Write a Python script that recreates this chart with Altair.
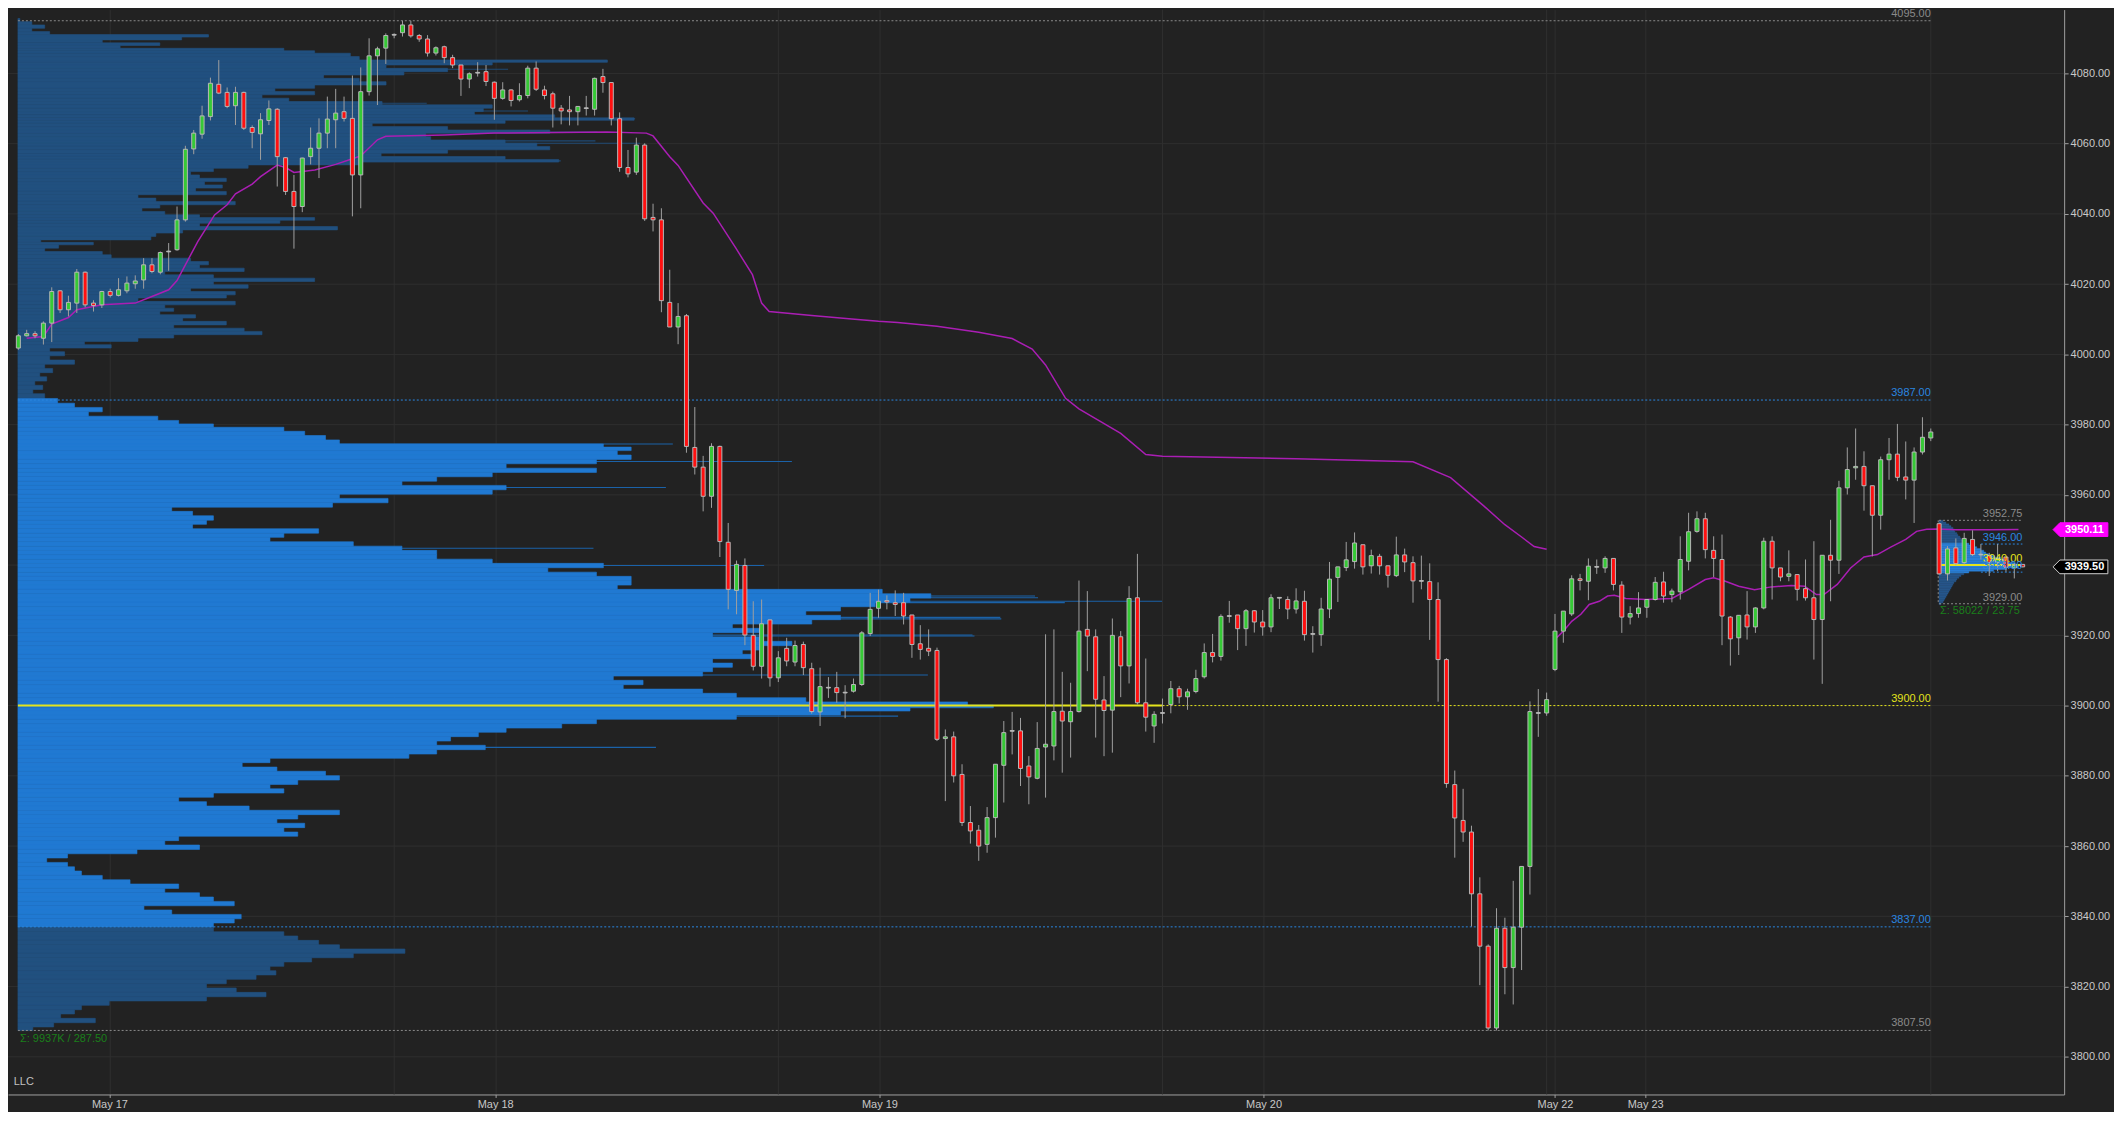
import altair as alt
import pandas as pd

# ---------------- candles (30-minute bars, bar index 0..240) ----------------
OPEN = [4001.8, 4005.3, 4005.9, 4004.6, 4008.9, 4018.1, 4012.7, 4014.6, 4023.4, 4014.6,
        4014.1, 4017.9, 4016.8, 4018.1, 4020.1, 4021.2, 4025.5, 4023.4, 4029.3, 4029.8,
        4038.3, 4058.5, 4062.7, 4067.7, 4076.9, 4074.6, 4070.8, 4074.6, 4064.6, 4062.8,
        4066.6, 4069.8, 4056.0, 4046.4, 4042.1, 4056.3, 4058.7, 4063.0, 4066.8, 4069.1,
        4067.2, 4051.1, 4074.8, 4085.0, 4087.2, 4091.0, 4091.6, 4093.8, 4090.8, 4089.8,
        4085.8, 4087.6, 4084.5, 4082.4, 4078.4, 4080.2, 4080.5, 4077.5, 4072.9, 4075.3,
        4072.5, 4073.7, 4081.5, 4075.3, 4074.2, 4070.1, 4069.6, 4069.1, 4070.1, 4069.8,
        4079.1, 4077.4, 4067.1, 4053.2, 4051.9, 4059.6, 4039.0, 4038.3, 4014.8, 4007.8,
        4011.0, 3973.5, 3967.9, 3959.6, 3973.8, 3946.5, 3932.8, 3939.9, 3920.0, 3911.2,
        3924.4, 3907.9, 3916.3, 3912.4, 3917.4, 3910.5, 3898.2, 3905.1, 3905.1, 3903.7,
        3904.1, 3906.0, 3920.5, 3927.7, 3929.9, 3929.3, 3929.3, 3925.8, 3917.6, 3916.3,
        3915.7, 3890.6, 3891.1, 3880.4, 3866.7, 3864.5, 3860.5, 3868.1, 3883.0, 3892.8,
        3892.8, 3882.8, 3879.3, 3888.2, 3888.5, 3898.4, 3895.4, 3898.3, 3921.7, 3919.6,
        3901.6, 3898.7, 3919.6, 3911.3, 3930.7, 3900.8, 3894.2, 3897.9, 3900.3, 3904.8,
        3902.5, 3904.0, 3908.2, 3915.1, 3914.0, 3925.5, 3925.8, 3921.9, 3927.0, 3923.8,
        3922.4, 3930.7, 3930.2, 3927.5, 3929.7, 3920.4, 3920.2, 3927.5, 3936.5, 3939.3,
        3941.0, 3945.8, 3939.8, 3942.5, 3939.8, 3937.0, 3942.9, 3940.7, 3935.5, 3935.3,
        3930.2, 3913.1, 3877.5, 3867.3, 3864.0, 3846.4, 3831.5, 3808.2, 3836.6, 3825.4,
        3836.9, 3854.2, 3897.9, 3897.9, 3910.3, 3921.2, 3926.1, 3936.1, 3935.4, 3939.5,
        3939.2, 3941.9, 3934.3, 3925.2, 3926.2, 3928.0, 3930.2, 3935.2, 3931.6, 3932.4,
        3941.1, 3949.6, 3953.2, 3944.2, 3941.6, 3925.2, 3919.3, 3925.8, 3922.4, 3927.8,
        3946.8, 3939.2, 3936.8, 3937.3, 3933.3, 3930.7, 3924.5, 3942.8, 3941.4, 3962.0,
        3967.7, 3968.1, 3962.6, 3954.2, 3970.0, 3971.6, 3965.1, 3964.2, 3972.2, 3976.2,
        3951.8, 3937.5, 3944.9, 3940.7, 3947.3, 3943.0, 3942.7, 3940.8, 3942.3, 3939.2,
        3940.2]
HIGH = [4005.8, 4007.0, 4006.6, 4009.4, 4019.1, 4018.3, 4016.7, 4024.3, 4023.6, 4015.4,
        4018.1, 4018.7, 4021.7, 4022.2, 4022.5, 4027.4, 4027.4, 4029.3, 4031.7, 4042.1,
        4059.4, 4063.9, 4070.8, 4078.8, 4083.8, 4076.0, 4076.2, 4074.8, 4065.2, 4068.7,
        4072.3, 4070.1, 4056.2, 4051.1, 4056.0, 4064.6, 4067.2, 4073.4, 4075.6, 4073.4,
        4079.4, 4081.7, 4090.0, 4087.6, 4091.4, 4091.4, 4095.0, 4095.0, 4091.2, 4090.9,
        4087.7, 4087.9, 4085.3, 4082.4, 4080.3, 4083.2, 4082.4, 4077.7, 4077.5, 4075.5,
        4077.2, 4082.2, 4083.4, 4076.5, 4074.8, 4071.0, 4073.6, 4070.6, 4073.6, 4078.8,
        4081.3, 4077.4, 4068.9, 4058.2, 4061.7, 4060.1, 4042.9, 4041.6, 4024.1, 4014.6,
        4011.5, 3985.0, 3971.1, 3974.7, 3974.0, 3952.0, 3941.3, 3941.9, 3929.7, 3930.2,
        3924.4, 3915.5, 3919.3, 3918.5, 3918.2, 3912.2, 3910.8, 3908.1, 3909.6, 3905.8,
        3907.7, 3921.2, 3932.1, 3933.0, 3931.4, 3932.8, 3932.1, 3925.8, 3922.9, 3921.7,
        3916.5, 3893.2, 3892.6, 3883.3, 3871.4, 3866.0, 3871.1, 3883.3, 3895.6, 3898.2,
        3896.5, 3885.6, 3895.3, 3920.3, 3921.7, 3909.6, 3906.5, 3935.6, 3932.6, 3921.7,
        3908.4, 3924.8, 3921.2, 3934.0, 3943.2, 3913.4, 3898.4, 3902.0, 3907.0, 3905.6,
        3904.8, 3910.2, 3917.7, 3920.4, 3926.0, 3929.8, 3925.8, 3927.5, 3927.2, 3927.2,
        3931.7, 3930.7, 3931.1, 3933.4, 3932.7, 3922.6, 3930.7, 3940.9, 3939.5, 3946.6,
        3949.3, 3945.8, 3944.4, 3943.2, 3939.8, 3948.1, 3944.7, 3942.5, 3942.7, 3940.5,
        3935.1, 3913.5, 3881.5, 3876.3, 3865.8, 3851.1, 3832.0, 3842.3, 3839.6, 3850.1,
        3854.2, 3901.2, 3904.7, 3903.7, 3926.1, 3926.9, 3937.1, 3937.5, 3941.9, 3941.6,
        3942.5, 3941.9, 3935.4, 3928.3, 3932.3, 3930.2, 3936.6, 3938.1, 3933.3, 3948.2,
        3954.9, 3955.3, 3954.9, 3948.2, 3948.7, 3925.5, 3925.7, 3932.6, 3928.0, 3947.8,
        3948.2, 3939.2, 3944.2, 3937.3, 3941.6, 3946.8, 3942.8, 3952.9, 3964.0, 3973.5,
        3978.9, 3972.4, 3962.6, 3970.9, 3976.2, 3980.2, 3975.2, 3973.5, 3982.1, 3978.9,
        3952.1, 3945.4, 3947.6, 3949.2, 3949.9, 3946.0, 3943.5, 3946.0, 3942.3, 3940.6,
        3940.2]
LOW = [4001.3, 4005.1, 4004.6, 4002.8, 4003.5, 4011.8, 4010.8, 4011.8, 4013.4, 4012.2,
       4013.2, 4016.2, 4016.5, 4017.4, 4018.7, 4018.7, 4023.1, 4022.8, 4023.8, 4029.5,
       4037.8, 4057.0, 4061.4, 4066.6, 4074.1, 4070.1, 4065.3, 4063.9, 4058.7, 4055.4,
       4065.3, 4047.8, 4045.4, 4030.1, 4040.5, 4054.1, 4050.2, 4058.7, 4058.7, 4066.3,
       4039.3, 4041.6, 4073.7, 4071.0, 4082.7, 4090.0, 4090.5, 4090.2, 4089.0, 4084.8,
       4085.1, 4082.9, 4081.5, 4073.6, 4075.8, 4079.1, 4076.4, 4066.8, 4072.5, 4070.6,
       4072.0, 4072.9, 4075.0, 4072.6, 4064.6, 4065.5, 4065.2, 4065.2, 4068.0, 4068.0,
       4074.5, 4065.2, 4052.0, 4050.4, 4051.1, 4038.0, 4035.0, 4012.0, 4007.8, 4002.9,
       3972.0, 3965.8, 3955.3, 3956.3, 3942.3, 3927.4, 3926.0, 3917.2, 3910.0, 3907.7,
       3905.4, 3906.7, 3911.2, 3911.2, 3908.7, 3897.7, 3894.2, 3902.2, 3900.8, 3896.4,
       3903.7, 3905.6, 3919.8, 3925.0, 3927.4, 3925.5, 3923.1, 3913.6, 3913.1, 3914.1,
       3889.9, 3872.8, 3878.1, 3865.7, 3860.7, 3855.8, 3858.1, 3862.4, 3872.4, 3886.1,
       3877.1, 3871.9, 3879.0, 3873.8, 3884.4, 3880.9, 3885.2, 3898.0, 3909.8, 3890.9,
       3885.6, 3886.6, 3902.4, 3906.3, 3900.3, 3892.6, 3889.4, 3894.9, 3897.8, 3900.6,
       3898.8, 3903.5, 3907.7, 3912.3, 3912.8, 3923.6, 3915.8, 3917.0, 3920.8, 3919.9,
       3920.9, 3927.5, 3924.6, 3926.2, 3918.5, 3915.1, 3917.0, 3924.9, 3929.5, 3938.3,
       3939.0, 3937.3, 3937.6, 3937.3, 3933.6, 3936.6, 3938.0, 3929.3, 3933.1, 3918.7,
       3901.1, 3876.6, 3856.7, 3861.2, 3837.1, 3820.4, 3807.5, 3807.5, 3817.8, 3814.9,
       3824.7, 3846.2, 3891.1, 3897.1, 3909.8, 3917.9, 3925.5, 3932.8, 3930.0, 3937.5,
       3937.8, 3932.8, 3920.7, 3923.1, 3925.0, 3925.0, 3929.9, 3929.3, 3929.4, 3930.2,
       3938.5, 3949.2, 3941.9, 3936.6, 3917.2, 3911.4, 3914.4, 3918.8, 3920.7, 3927.4,
       3930.2, 3935.4, 3935.4, 3929.9, 3929.9, 3913.1, 3906.2, 3929.7, 3937.5, 3960.1,
       3964.3, 3955.5, 3942.5, 3950.1, 3964.3, 3963.9, 3958.7, 3952.0, 3971.5, 3975.3,
       3937.3, 3935.6, 3940.0, 3940.2, 3942.6, 3941.6, 3936.9, 3938.3, 3938.1, 3936.2,
       3939.4]
CLOSE = [4005.3, 4005.9, 4005.3, 4008.9, 4017.9, 4012.7, 4014.8, 4023.4, 4014.1, 4013.9,
         4017.9, 4016.8, 4018.4, 4020.3, 4020.9, 4025.5, 4023.6, 4029.0, 4029.3, 4038.3,
         4058.4, 4063.0, 4067.9, 4077.2, 4074.4, 4070.6, 4074.6, 4064.4, 4063.2, 4066.8,
         4069.9, 4056.3, 4046.4, 4042.1, 4055.9, 4058.7, 4063.0, 4067.0, 4068.7, 4067.2,
         4051.1, 4074.8, 4085.0, 4087.0, 4090.8, 4091.0, 4093.8, 4090.7, 4089.8, 4085.8,
         4087.3, 4084.5, 4082.4, 4078.4, 4079.9, 4080.2, 4077.7, 4072.9, 4075.3, 4072.3,
         4073.7, 4081.5, 4075.5, 4073.7, 4070.1, 4069.3, 4069.1, 4070.6, 4070.1, 4078.6,
         4077.4, 4067.1, 4053.2, 4051.4, 4059.6, 4038.6, 4038.3, 4015.3, 4007.8, 4010.8,
         3973.8, 3967.9, 3959.6, 3973.8, 3946.7, 3933.1, 3940.2, 3920.1, 3911.2, 3923.3,
         3907.9, 3913.6, 3912.7, 3917.1, 3910.8, 3898.3, 3905.4, 3905.1, 3903.7, 3903.7,
         3906.0, 3920.7, 3927.4, 3929.7, 3929.5, 3928.8, 3925.5, 3917.4, 3916.0, 3915.5,
         3890.4, 3891.1, 3880.0, 3866.7, 3864.3, 3860.0, 3868.1, 3883.3, 3892.3, 3892.8,
         3882.1, 3879.7, 3887.8, 3889.0, 3898.3, 3895.6, 3898.3, 3921.2, 3919.8, 3901.8,
         3898.6, 3920.0, 3911.3, 3930.5, 3900.8, 3896.7, 3897.5, 3897.9, 3904.8, 3902.5,
         3903.9, 3907.7, 3915.1, 3914.0, 3925.4, 3925.5, 3921.9, 3927.0, 3923.8, 3922.4,
         3930.7, 3930.7, 3927.5, 3929.8, 3920.2, 3920.4, 3927.5, 3936.0, 3939.5, 3941.5,
         3946.3, 3939.5, 3942.7, 3939.8, 3937.1, 3942.9, 3940.9, 3935.5, 3935.5, 3930.2,
         3913.1, 3877.8, 3868.0, 3864.0, 3846.4, 3831.5, 3808.2, 3836.6, 3825.4, 3836.9,
         3854.2, 3898.3, 3897.9, 3901.7, 3921.2, 3926.9, 3936.1, 3935.6, 3939.7, 3939.5,
         3941.9, 3934.5, 3925.2, 3926.2, 3927.8, 3930.2, 3935.1, 3931.2, 3932.6, 3941.6,
         3949.5, 3953.2, 3944.4, 3941.9, 3925.5, 3919.0, 3925.7, 3922.4, 3927.8, 3946.8,
         3939.2, 3936.6, 3937.5, 3933.1, 3930.7, 3924.5, 3942.8, 3941.4, 3962.0, 3967.2,
         3968.1, 3962.6, 3954.2, 3970.0, 3971.6, 3965.0, 3964.2, 3972.2, 3976.4, 3977.9,
         3937.5, 3944.6, 3940.4, 3947.6, 3943.0, 3943.0, 3940.8, 3941.9, 3939.4, 3939.9,
         3939.5]

# ---------------- time axis ----------------
DATE_POS = [10.9, 57.1, 103.1, 149.1, 184.0, 194.8]
DATE_LABELS = ["May 17", "May 18", "May 19", "May 20", "May 22", "May 23"]
SESSION_BREAKS = [45, 91, 137, 183, 229]
PRICE_GRID = [3800, 3820, 3840, 3860, 3880, 3900, 3920, 3940, 3960, 3980,
              4000, 4020, 4040, 4060, 4080]
# 3940.00 is hidden behind the last-price tag in the reference
PRICE_TICKS = [3800, 3820, 3840, 3860, 3880, 3900, 3920, 3960, 3980,
               4000, 4020, 4040, 4060, 4080]

# ---------------- anchored VWAP lines ----------------
VWAP1_BAR = [1, 3, 4, 6, 7, 10, 14, 16, 18, 19, 20, 21.5, 23.5, 25, 26, 28, 29, 31, 32, 33,
             35.5, 38, 40, 41, 43, 44, 51, 57, 70.5, 75.2, 76, 78, 79, 82, 83.2, 85.9, 87.9,
             89, 89.9, 95, 99.8, 103, 105.3, 110, 115, 119, 121.4, 123, 125.4, 127, 129.5,
             132, 135, 137, 153, 167, 171.5, 175.5, 178, 180, 181.5, 183]
VWAP1_PRICE = [4004.6, 4005.1, 4008.6, 4010.5, 4012.7, 4014.1, 4014.6, 4016.5, 4018.4, 4021.0,
               4025.5, 4032.2, 4039.7, 4042.6, 4045.7, 4048.5, 4050.6, 4053.9, 4053.2, 4051.8,
               4052.5, 4054.1, 4055.7, 4056.5, 4061.1, 4062.1, 4062.5, 4063.0, 4063.3, 4063.0,
               4062.2, 4056.3, 4053.8, 4043.1, 4040.2, 4030.3, 4022.7, 4014.6, 4012.2, 4011.1,
               4010.1, 4009.4, 4009.1, 4008.0, 4006.3, 4004.5, 4001.5, 3997.0, 3987.5, 3984.5,
               3981.0, 3977.5, 3971.5, 3971.0, 3970.3, 3969.4, 3964.9, 3956.8, 3951.5, 3948.0,
               3945.3, 3944.5]
VWAP2_BAR = [184.2, 185, 186, 187.1, 188.1, 189.3, 190.3, 191.1, 192.5, 194.9, 198, 200, 202,
             203, 204.4, 206, 207.9, 209.9, 212.3, 213.9, 215.3, 216.2, 217.8, 219.4, 221,
             222.6, 224.2, 226, 227.3, 228.5, 229.7, 232, 236, 239.5]
VWAP2_PRICE = [3919.3, 3921.2, 3924.0, 3926.0, 3928.8, 3929.7, 3931.2, 3931.4, 3930.5, 3930.2,
               3930.5, 3933.1, 3935.9, 3936.4, 3935.4, 3934.0, 3933.0, 3933.8, 3934.2, 3934.0,
               3931.6, 3931.6, 3934.5, 3939.2, 3942.3, 3943.0, 3945.1, 3947.3, 3949.6, 3950.2,
               3950.3, 3950.1, 3950.1, 3950.11]
VWAP_LAST = 3950.11
LAST_PRICE = 3939.50

# ---------------- composite volume profile (relative volume units) ----------------
PROF_PRICE = [4095.2, 4094.3, 4093.3, 4092.4, 4091.4, 4090.7, 4090.0, 4089.1, 4088.3, 4087.6,
              4086.7, 4086.2, 4085.3, 4084.3, 4083.4, 4082.9, 4081.9, 4081.0, 4080.0, 4079.1,
              4078.1, 4077.2, 4076.2, 4075.3, 4074.4, 4073.4, 4072.5, 4071.5, 4070.6, 4069.6,
              4068.7, 4067.7, 4067.0, 4066.3, 4065.3, 4064.4, 4063.4, 4062.5, 4061.5, 4060.6,
              4059.7, 4058.7, 4057.8, 4056.8, 4055.9, 4055.1, 4054.4, 4053.5, 4052.5, 4051.6,
              4050.6, 4049.7, 4048.7, 4047.8, 4046.9, 4045.9, 4045.0, 4044.0, 4043.1, 4042.1,
              4041.2, 4040.2, 4039.3, 4038.6, 4037.8, 4036.9, 4035.9, 4035.0, 4034.1, 4033.1,
              4032.1, 4031.7, 4030.7, 4029.8, 4028.8, 4027.9, 4026.9, 4026.0, 4025.0, 4024.1,
              4023.1, 4022.2, 4021.2, 4020.3, 4019.3, 4018.4, 4017.4, 4016.5, 4015.6, 4014.6,
              4013.6, 4012.7, 4011.8, 4010.8, 4009.9, 4008.9, 4007.9, 4007.0, 4006.1, 4005.1,
              4004.2, 4003.2, 4002.3, 4001.3, 4000.2, 3999.0, 3997.8, 3996.6, 3995.4, 3994.2,
              3993.0, 3991.8, 3990.6, 3989.4, 3988.2,
              3986.7, 3985.5, 3984.3, 3983.0, 3981.8, 3980.6, 3979.8, 3978.7, 3977.5, 3976.3,
              3975.0, 3974.0, 3973.2, 3972.0, 3970.7, 3969.5, 3968.2, 3967.0, 3965.8, 3964.5,
              3963.3, 3962.1, 3960.8, 3959.6, 3958.4, 3957.1, 3955.9, 3954.7, 3953.4, 3952.2,
              3951.0, 3949.7, 3948.5, 3947.3, 3946.0, 3944.8, 3943.6, 3942.3, 3941.1, 3939.9,
              3938.6, 3937.4, 3936.2, 3934.9, 3933.7, 3932.5, 3931.2, 3930.0, 3928.8, 3927.5,
              3926.3, 3925.1, 3923.8, 3922.6, 3921.4, 3920.1, 3918.9, 3917.7, 3916.4, 3915.2,
              3914.0, 3912.7, 3911.5, 3910.3, 3909.0, 3907.8, 3906.6, 3905.3, 3904.1, 3902.9,
              3901.6, 3900.5, 3899.75, 3899.0, 3897.9, 3896.7, 3895.5, 3894.2, 3893.0, 3891.8,
              3890.5, 3889.3, 3888.1, 3886.8, 3885.6, 3884.4, 3883.1, 3881.9, 3880.7, 3879.4,
              3878.2, 3876.9, 3875.7, 3874.5, 3873.3, 3872.0, 3870.8, 3869.6, 3868.3, 3867.1,
              3865.9, 3864.6, 3863.4, 3862.2, 3860.9, 3859.7, 3858.4, 3857.2, 3856.0, 3854.7,
              3853.5, 3852.3, 3851.0, 3849.8, 3848.6, 3847.3, 3846.1, 3844.9, 3843.6, 3842.4,
              3841.2, 3839.9, 3838.7, 3837.5,
              3836.2, 3835.0, 3833.8, 3832.5, 3831.3, 3830.1, 3828.8, 3827.6, 3826.4, 3825.1,
              3823.9, 3822.7, 3821.4, 3820.2, 3819.0, 3817.7, 3816.5, 3815.3, 3814.0, 3812.8,
              3811.6, 3810.3, 3809.1, 3807.9]
PROF_VOL = [0.2, 1.4, 2.7, 1.4, 3.2, 19.2, 16.5, 8.5, 14.3, 10.3,
            26.8, 29.9, 33.5, 34.4, 59.4, 47.8, 37.1, 43.3, 38.9, 30.8,
            34.4, 37.1, 29.9, 25.9, 29.9, 24.6, 27.3, 36.7, 47.8, 46.9,
            46.0, 54.1, 62.1, 49.1, 35.7, 43.3, 53.6, 41.1, 41.6, 49.1,
            52.3, 53.6, 43.3, 36.6, 49.1, 54.5, 34.4, 23.2, 19.7, 17.4,
            18.3, 21.0, 18.8, 20.6, 17.9, 21.0, 12.1, 13.9, 21.9, 14.3,
            12.5, 14.8, 18.3, 29.9, 26.4, 18.3, 32.2, 16.6, 13.9, 13.4,
            2.3, 7.6, 4.1, 2.7, 8.5, 9.4, 17.4, 19.2, 18.3, 22.8,
            14.8, 19.7, 29.9, 19.7, 23.2, 17.4, 21.9, 21.0, 12.1, 21.9,
            14.8, 15.7, 14.3, 17.9, 16.6, 21.0, 15.7, 22.8, 24.6, 15.7,
            12.1, 6.7, 9.4, 3.2, 4.7, 3.2, 5.7, 2.7, 3.5, 2.2,
            2.9, 1.7, 2.5, 1.5, 2.7,
            4.0, 5.7, 8.5, 7.1, 14.1, 16.2, 19.7, 26.8, 28.9, 31.0,
            32.4, 59.0, 61.8, 60.4, 61.8, 58.3, 49.2, 58.3, 47.8, 42.2,
            38.7, 49.2, 47.8, 32.4, 37.3, 31.7, 15.5, 17.6, 19.7, 19.0,
            17.6, 30.3, 26.8, 25.4, 33.8, 38.7, 42.2, 42.2, 47.8, 59.0,
            53.4, 58.3, 61.8, 61.8, 60.4, 87.1, 92.0, 89.9, 86.4, 82.9,
            79.4, 82.9, 80.0, 72.0, 75.0, 70.0, 75.0, 78.0, 75.0, 73.0,
            74.0, 70.0, 72.0, 70.0, 69.0, 60.0, 63.0, 61.0, 69.0, 72.4,
            79.4, 95.7, 98.3, 89.9, 82.9, 72.4, 58.3, 54.8, 49.2, 46.4,
            43.6, 42.2, 47.1, 42.2, 39.4, 25.4, 22.6, 26.1, 31.0, 32.4,
            28.2, 25.4, 26.8, 19.7, 16.2, 19.0, 23.3, 32.4, 28.2, 26.1,
            28.9, 26.8, 28.2, 16.2, 14.8, 18.3, 12.0, 5.0, 2.9, 5.0,
            5.7, 6.4, 8.5, 11.3, 16.2, 14.8, 18.3, 19.7, 21.8, 12.7,
            15.5, 22.5, 21.8, 19.7,
            19.7, 26.8, 28.2, 30.3, 32.4, 39.0, 33.8, 29.6, 26.8, 25.4,
            26.0, 24.0, 21.0, 19.0, 22.0, 25.0, 19.0, 9.2, 6.4, 5.7,
            4.3, 7.8, 3.6, 1.5]
# longer single-tick prints that poke out of the profile
EXT_PRICE = [4090.7, 4083.4, 4081.2, 4071.5, 4069.3, 4067.1, 4063.3, 4060.8, 4060.1, 4055.1,
             4035.9, 3974.5, 3969.5, 3962.1, 3944.8, 3939.9, 3931.2, 3930.7, 3929.7, 3929.3,
             3925.1, 3924.7, 3920.1, 3919.8, 3908.7, 3897.0, 3888.1, 3830.1]
EXT_VOL = [19.2, 59.4, 49.4, 41.2, 51.4, 62.2, 58.4, 58.2, 62.7, 54.7,
           32.2, 66.0, 78.0, 65.3, 58.0, 75.2, 102.5, 102.8, 115.3, 105.5,
           99.0, 99.1, 96.2, 96.4, 91.7, 88.7, 64.3, 39.0]
PROF_HIGH, PROF_LOW = 4095.0, 3807.5
VA_HIGH, VA_LOW, POC = 3987.0, 3837.0, 3900.0
PROF_TOTAL, PROF_RANGE = "9937K", "287.50"

# ---------------- current-session profile (contracts) ----------------
BOX_PRICE = [3952.5, 3952.0, 3951.5, 3951.0, 3950.5, 3950.0, 3949.5, 3949.0, 3948.5, 3948.0,
             3947.5, 3947.0, 3946.5, 3946.0, 3945.5, 3945.0, 3944.5, 3944.0, 3943.5, 3943.0,
             3942.5, 3942.0, 3941.5, 3941.0, 3940.5, 3940.0, 3939.5, 3939.0, 3938.5, 3938.0,
             3937.5, 3937.0, 3936.5, 3936.0, 3935.5, 3935.0, 3934.5, 3934.0, 3933.5, 3933.0,
             3932.5, 3932.0, 3931.5, 3931.0, 3930.5, 3930.0, 3929.5, 3929.0]
BOX_VOL = [240, 420, 600, 720, 840, 900, 960, 1080, 1140, 1260,
           1320, 1440, 1560, 1800, 2040, 2280, 2520, 2700, 2820, 3000,
           3360, 3720, 3960, 4200, 4560, 5040, 4800, 4080, 3300, 1800,
           1500, 1320, 1200, 1080, 1020, 900, 840, 780, 720, 660,
           600, 540, 480, 420, 360, 300, 240, 120]
BOX_HIGH, BOX_LOW, BOX_VAH, BOX_VAL, BOX_POC = 3952.75, 3929.0, 3946.0, 3938.0, 3940.0
BOX_TOTAL, BOX_RANGE = "58022", "23.75"

# ---------------- colours & layout constants ----------------
BG = "#222222"
GRID = "#2f2f2f"
GREEN, RED = "#36c936", "#ff1010"
BRIGHT, DARK = "#2079d2", "#21507f"
BLUE, YELLOW, GREY, SIGMA = "#2a86e0", "#e4e41c", "#8a8a8a", "#1a7f1a"
MAGENTA = "#aa1eb4"

PROFILE_BASE = -0.05          # bar position where the composite profile starts
PROFILE_K = 1.1882            # bars per profile volume unit
BOX_BASE = 229.99             # bar position where the session box starts
BOX_END = 239.97
BOX_K = 1.0 / 505.0           # bars per contract
LEVEL_END = 229.0

XS = alt.Scale(domain=[-0.6416, 244.37], nice=False, zero=False)
YS = alt.Scale(domain=[3789.27, 4098.18], nice=False, zero=False)

expr = "'" + DATE_LABELS[-1] + "'"
for k in range(len(DATE_POS) - 2, -1, -1):
    mid = (DATE_POS[k] + DATE_POS[k + 1]) / 2
    expr = f"datum.value < {mid:.2f} ? '{DATE_LABELS[k]}' : ({expr})"

XAXIS = alt.Axis(values=DATE_POS, labelExpr=expr, title=None, grid=True, gridColor=GRID,
                 domainColor="#a0a0a0", tickColor="#a0a0a0", tickSize=3, labelPadding=1,
                 labelColor="#c8c8c8", labelFontSize=11, labelFont="Liberation Sans",
                 labelFlush=False, labelOverlap=False)
YAXIS = alt.Axis(orient="right", values=PRICE_TICKS, format=".2f", title=None,
                 grid=False, domainColor="#a0a0a0", tickColor="#a0a0a0",
                 tickSize=4, labelPadding=2, labelColor="#c8c8c8", labelFontSize=11,
                 labelFont="Liberation Sans")


def X(f):
    return alt.X(f, type="quantitative", scale=XS, axis=XAXIS)


def Y(f):
    return alt.Y(f, type="quantitative", scale=YS, axis=YAXIS)


def row_bounds(prices, edge):
    tops, bots = [], []
    n = len(prices)
    for k, p in enumerate(prices):
        tops.append(p + edge if k == 0 else (prices[k - 1] + p) / 2)
        bots.append(p - edge if k == n - 1 else (p + prices[k + 1]) / 2)
    return tops, bots


# ---------------- tables ----------------
n = min(len(OPEN), len(HIGH), len(LOW), len(CLOSE))
cdf = pd.DataFrame({"bar": list(range(n)), "open": OPEN[:n], "high": HIGH[:n],
                    "low": LOW[:n], "close": CLOSE[:n]})
cdf["dir"] = ["up" if c > o else ("down" if c < o else "flat")
              for o, c in zip(cdf["open"], cdf["close"])]
cdf["top"] = [max(o, c) if abs(o - c) > 0.15 else (o + c) / 2 + 0.1
              for o, c in zip(cdf["open"], cdf["close"])]
cdf["bot"] = [min(o, c) if abs(o - c) > 0.15 else (o + c) / 2 - 0.1
              for o, c in zip(cdf["open"], cdf["close"])]

ptop, pbot = row_bounds(PROF_PRICE, 0.45)
pdf = pd.DataFrame({"price": PROF_PRICE, "vol": PROF_VOL, "y0": ptop, "y1": pbot})
pdf["x0"] = PROFILE_BASE
pdf["x1"] = PROFILE_BASE + pdf["vol"] * PROFILE_K
pdf["col"] = [BRIGHT if VA_LOW <= p <= VA_HIGH else DARK for p in PROF_PRICE]

edf = pd.DataFrame({"price": EXT_PRICE, "vol": EXT_VOL})
edf["y0"] = edf["price"] + 0.16
edf["y1"] = edf["price"] - 0.16
edf["x0"] = PROFILE_BASE
edf["x1"] = PROFILE_BASE + edf["vol"] * PROFILE_K
edf["col"] = ["#1b62a8" if VA_LOW <= p <= VA_HIGH else "#1f4a74" for p in EXT_PRICE]

bdf = pd.DataFrame({"price": BOX_PRICE, "vol": BOX_VOL})
bdf["y0"] = bdf["price"] + 0.25
bdf["y1"] = bdf["price"] - 0.25
bdf["x0"] = BOX_BASE
bdf["x1"] = BOX_BASE + bdf["vol"] * BOX_K
bdf["col"] = ["#2a80d8" if BOX_VAL <= p <= BOX_VAH else "#27568a" for p in BOX_PRICE]

vdf = pd.concat([
    pd.DataFrame({"bar": VWAP1_BAR, "price": VWAP1_PRICE, "seg": "a"}),
    pd.DataFrame({"bar": VWAP2_BAR, "price": VWAP2_PRICE, "seg": "b"}),
])

dotted = pd.DataFrame({
    "x0": [PROFILE_BASE, PROFILE_BASE, PROFILE_BASE, PROFILE_BASE, 137.0,
           BOX_BASE, BOX_BASE, 235.0, 235.0],
    "x1": [LEVEL_END, LEVEL_END, LEVEL_END, LEVEL_END, LEVEL_END,
           BOX_END, BOX_END, BOX_END, BOX_END],
    "y": [PROF_HIGH, VA_HIGH, VA_LOW, PROF_LOW, POC, BOX_HIGH, BOX_LOW, BOX_VAH, BOX_VAL],
    "col": [GREY, BLUE, BLUE, GREY, YELLOW, GREY, GREY, BLUE, BLUE],
})
solid = pd.DataFrame({"x0": [PROFILE_BASE, BOX_BASE + 0.2], "x1": [137.0, BOX_END - 0.3],
                      "y": [POC, BOX_POC]})
boxside = pd.DataFrame({"x": [BOX_BASE - 0.1], "y0": [BOX_HIGH], "y1": [BOX_LOW]})

lvl_labels = pd.DataFrame({
    "x": [LEVEL_END] * 5,
    "y": [PROF_HIGH, VA_HIGH, POC, VA_LOW, PROF_LOW],
    "text": [f"{v:.2f}" for v in [PROF_HIGH, VA_HIGH, POC, VA_LOW, PROF_LOW]],
    "col": [GREY, BLUE, YELLOW, BLUE, GREY],
})
box_labels = pd.DataFrame({
    "x": [BOX_END] * 5,
    "y": [BOX_HIGH, BOX_VAH, BOX_POC, BOX_VAL, BOX_LOW],
    "text": [f"{v:.2f}" for v in [BOX_HIGH, BOX_VAH, BOX_POC, BOX_VAL, BOX_LOW]],
    "col": [GREY, BLUE, YELLOW, BLUE, GREY],
})
left_labels = pd.DataFrame({
    "x": [0.2, BOX_BASE + 0.1, -0.55],
    "y": [3805.2, 3927.0, 3792.7],
    "text": [f"Σ: {PROF_TOTAL} / {PROF_RANGE}", f"Σ: {BOX_TOTAL} / {BOX_RANGE}", "LLC"],
    "col": [SIGMA, SIGMA, "#c0c0c0"],
})
tags = pd.DataFrame({
    "x": [246.92, 246.92],
    "tx": [247.4, 247.4],
    "y": [VWAP_LAST, LAST_PRICE],
    "text": [f"{VWAP_LAST:.2f}", f"{LAST_PRICE:.2f}"],
    "fill": ["#ff00ff", "#000000"],
    "stroke": ["#ff00ff", "#d0d0d0"],
})
sess = pd.DataFrame({"bar": SESSION_BREAKS})
hgrid = pd.DataFrame({"price": PRICE_GRID})

TAG_SHAPE = "M -1 0 L -0.75 -0.25 L 1 -0.25 L 1 0.25 L -0.75 0.25 Z"

# ---------------- layers ----------------
l_hgrid = alt.Chart(hgrid).mark_rule(color=GRID, strokeWidth=1).encode(y=Y("price"))
l_sess = alt.Chart(sess).mark_rule(color=GRID, strokeWidth=1).encode(x=X("bar"))

l_ext = alt.Chart(edf).mark_rect().encode(
    x=X("x0"), x2="x1", y=Y("y0"), y2="y1", color=alt.Color("col:N", scale=None))
l_prof = alt.Chart(pdf).mark_rect(strokeWidth=0.6).encode(
    x=X("x0"), x2="x1", y=Y("y0"), y2="y1", fill=alt.Fill("col:N", scale=None),
    stroke=alt.Stroke("col:N", scale=None))
l_box = alt.Chart(bdf).mark_rect(strokeWidth=0.4).encode(
    x=X("x0"), x2="x1", y=Y("y0"), y2="y1", fill=alt.Fill("col:N", scale=None),
    stroke=alt.Stroke("col:N", scale=None))

l_dot = alt.Chart(dotted).mark_rule(strokeDash=[2, 2], strokeWidth=1).encode(
    x=X("x0"), x2="x1", y=Y("y"), color=alt.Color("col:N", scale=None))
l_solid = alt.Chart(solid).mark_rule(strokeWidth=2, color=YELLOW).encode(
    x=X("x0"), x2="x1", y=Y("y"))
l_side = alt.Chart(boxside).mark_rule(strokeDash=[2, 2], strokeWidth=1, color=GREY).encode(
    x=X("x"), y=Y("y0"), y2="y1")

l_vwap = alt.Chart(vdf).mark_line(color=MAGENTA, strokeWidth=1.5).encode(
    x=X("bar"), y=Y("price"), detail="seg:N")

l_wick = alt.Chart(cdf).mark_rule(color="#a0a0a0", strokeWidth=1).encode(
    x=X("bar"), y=Y("low"), y2="high")
l_body = alt.Chart(cdf).mark_bar(size=4, stroke="#b8b8b8", strokeWidth=1).encode(
    x=X("bar"), y=Y("top"), y2="bot",
    color=alt.Color("dir:N", scale=alt.Scale(domain=["up", "down", "flat"],
                                             range=[GREEN, RED, "#dddddd"]), legend=None))

l_lvl = alt.Chart(lvl_labels).mark_text(align="right", baseline="middle", dy=-7, fontSize=11,
                                        font="Liberation Sans").encode(
    x=X("x"), y=Y("y"), text="text:N", color=alt.Color("col:N", scale=None))
l_boxlbl = alt.Chart(box_labels).mark_text(align="right", baseline="middle", dy=-6, fontSize=11,
                                           font="Liberation Sans").encode(
    x=X("x"), y=Y("y"), text="text:N", color=alt.Color("col:N", scale=None))
l_left = alt.Chart(left_labels).mark_text(align="left", baseline="middle", fontSize=11,
                                          font="Liberation Sans").encode(
    x=X("x"), y=Y("y"), text="text:N", color=alt.Color("col:N", scale=None))

l_tag = alt.Chart(tags).mark_point(shape=TAG_SHAPE, size=3025, filled=True, opacity=1,
                                   strokeWidth=1).encode(
    x=X("x"), y=Y("y"), fill=alt.Fill("fill:N", scale=None),
    stroke=alt.Stroke("stroke:N", scale=None))
l_tagtxt = alt.Chart(tags).mark_text(align="center", baseline="middle", fontSize=11,
                                     fontWeight="bold", color="#ffffff",
                                     font="Liberation Sans").encode(
    x=X("tx"), y=Y("y"), text="text:N")

chart = alt.layer(
    l_hgrid, l_sess, l_ext, l_prof, l_box, l_dot, l_solid, l_side, l_vwap, l_wick, l_body,
    l_lvl, l_boxlbl, l_left, l_tag, l_tagtxt
).properties(
    width=2062, height=1088,
    autosize=alt.AutoSizeParams(type="none"),
    padding={"left": 0, "top": 0, "right": 50, "bottom": 16},
).configure(background=BG).configure_view(stroke=None)

chart.save("out.html", embed_options={"renderer": "svg", "actions": False})
